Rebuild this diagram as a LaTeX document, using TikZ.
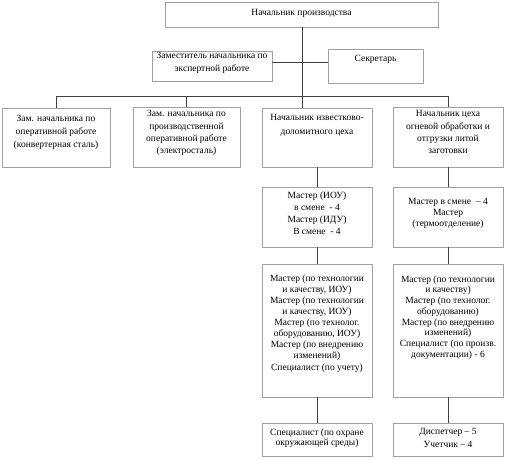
\documentclass[tikz,border=0pt]{standalone}
\usepackage{fontspec}
\setmainfont{Liberation Serif}
\definecolor{boxgray}{HTML}{A0A0A0}
\definecolor{linegray}{HTML}{404040}
\begin{document}
\begin{tikzpicture}[x=1pt,y=-1pt,
  bx/.style={draw=boxgray, line width=0.9pt, inner sep=0pt, fill=white},
  tx/.style={inner sep=0pt, align=center, anchor=north, font=\fontsize{9.5}{#1}\selectfont},
  tx/.default=11.5,
  ln/.style={draw=linegray, line width=0.7pt}]
\useasboundingbox (0,0) rectangle (514,460);
% boxes
\node[bx, minimum width=273pt, minimum height=25pt] (top) at (301.5,14.5) {};
\node[bx, minimum width=120pt, minimum height=30pt] (zam) at (212,66) {};
\node[bx, minimum width=95pt, minimum height=34pt] (sec) at (375.5,66) {};
\node[bx, minimum width=108pt, minimum height=59pt] (b1) at (56,137.5) {};
\node[bx, minimum width=107pt, minimum height=60pt] (b2) at (186.5,137) {};
\node[bx, minimum width=110pt, minimum height=59pt] (b3) at (317,137.5) {};
\node[bx, minimum width=110pt, minimum height=60pt] (b4) at (448,137) {};
\node[bx, minimum width=110pt, minimum height=60pt] (r3a) at (317,217) {};
\node[bx, minimum width=110pt, minimum height=60pt] (r3b) at (448,217) {};
\node[bx, minimum width=110pt, minimum height=133pt] (r4a) at (317,330.5) {};
\node[bx, minimum width=110pt, minimum height=133pt] (r4b) at (448,330.5) {};
\node[bx, minimum width=110pt, minimum height=33pt] (r5a) at (317,439.5) {};
\node[bx, minimum width=110pt, minimum height=33pt] (r5b) at (448,439.5) {};
% texts
\node[tx] (topt) at (301.5,9.5) {Начальник производства};
\node[tx=13] (zamt) at (212,52.5) {Заместитель начальника по\\экспертной работе};
\node[tx] (sect) at (375.5,55.5) {Секретарь};
\node[tx=13] (b1t) at (56,115.5) {Зам. начальника по\\оперативной работе\\(конвертерная сталь)};
\node[tx=12.3] (b2t) at (186.5,110.5) {Зам. начальника по\\производственной\\оперативной работе\\(электросталь)};
\node[tx=14] (b3t) at (317,114.5) {Начальник известково-\\доломитного цеха};
\node[tx=12.3] (b4t) at (448,110.5) {Начальник цеха\\огневой обработки и\\отгрузки литой\\заготовки};
\node[tx=12] (r3at) at (317,191.5) {Мастер (ИОУ)\\в смене \ - 4\\Мастер (ИДУ)\\В смене \ - 4};
\node[tx=11] (r3bt) at (448,198.5) {Мастер в смене \ – 4\\Мастер\\(термоотделение)};
\node[tx=11.1] (r4at) at (317,274.5) {Мастер (по технологии\\и качеству, ИОУ)\\Мастер (по технологии\\и качеству, ИОУ)\\Мастер (по технолог.\\оборудованию, ИОУ)\\Мастер (по внедрению\\изменений)\\Специалист (по учету)};
\node[tx=10.7] (r4bt) at (448,275.5) {Мастер (по технологии\\и качеству)\\Мастер (по технолог.\\оборудованию)\\Мастер (по внедрению\\изменений)\\Специалист (по произв.\\документации) - 6};
\node[tx=10.5] (r5at) at (317,428.5) {Специалист (по охране\\окружающей среды)};
\node[tx=13] (r5bt) at (448,428.5) {Диспетчер – 5\\Учетчик – 4};
% connectors
\coordinate (bus) at (302,96);
\coordinate (jz) at (302,62);
\draw[ln] (top.south -| bus) -- (b3.north -| bus);
\draw[ln] (zam.east |- jz) -- (sec.west |- jz);
\draw[ln] (b1.north) -- (b1.north |- bus) -- (b4.north |- bus) -- (b4.north);
\draw[ln] (b2.north) -- (b2.north |- bus);
\draw[ln] (b3.south) -- (r3a.north);
\draw[ln] (r3a.south) -- (r4a.north);
\draw[ln] (r4a.south) -- (r5a.north);
\draw[ln] (b4.south) -- (r3b.north);
\draw[ln] (r3b.south) -- (r4b.north);
\draw[ln] (r4b.south) -- (r5b.north);
\end{tikzpicture}
\end{document}
